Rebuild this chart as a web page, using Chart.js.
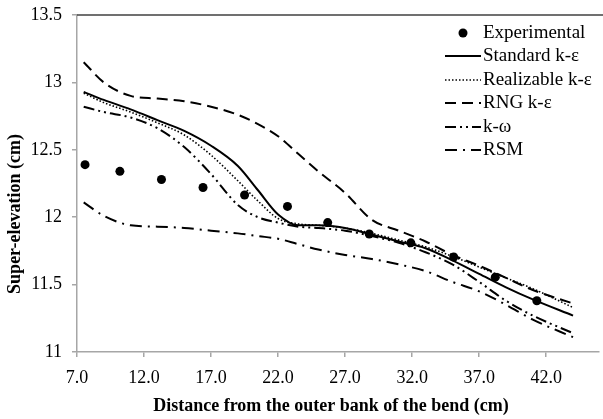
<!DOCTYPE html>
<html>
<head>
<meta charset="utf-8">
<script src="https://cdn.jsdelivr.net/npm/chart.js@4.4.0/dist/chart.umd.min.js"></script>
<style>
  html, body { margin: 0; padding: 0; background: #fff; }
  canvas { display: block; }
</style>
</head>
<body>
<canvas id="c" width="603" height="419"></canvas>
<script>
// values
const expX = [7.6, 10.2, 13.3, 16.4, 19.5, 22.7, 25.7, 28.8, 31.9, 35.1, 38.2, 41.3];
const expY = [12.39, 12.34, 12.28, 12.22, 12.165, 12.08, 11.96, 11.875, 11.81, 11.705, 11.555, 11.38];

// common x positions for the model curves
const modelX = [7.5, 9, 11, 13, 15, 17, 19, 20.5, 22, 23.5, 25, 27, 29, 31, 33, 35, 37, 39, 41, 44];
const standardY   = [12.93, 12.87, 12.80, 12.72, 12.64, 12.53, 12.38, 12.20, 12.02, 11.94, 11.94, 11.92, 11.87, 11.82, 11.77, 11.68, 11.58, 11.48, 11.39, 11.27];
const realizableY = [12.92, 12.85, 12.78, 12.70, 12.61, 12.46, 12.27, 12.12, 11.99, 11.95, 11.94, 11.92, 11.88, 11.83, 11.78, 11.71, 11.63, 11.55, 11.47, 11.33];
const rngY        = [13.15, 13.00, 12.90, 12.88, 12.86, 12.82, 12.76, 12.69, 12.60, 12.47, 12.34, 12.18, 11.98, 11.90, 11.82, 11.72, 11.64, 11.55, 11.46, 11.36];
const kwY         = [12.82, 12.78, 12.74, 12.66, 12.52, 12.32, 12.09, 12.00, 11.96, 11.93, 11.92, 11.90, 11.86, 11.81, 11.74, 11.65, 11.52, 11.38, 11.27, 11.14];
const rsmY        = [12.11, 12.01, 11.94, 11.93, 11.92, 11.90, 11.88, 11.86, 11.84, 11.80, 11.76, 11.72, 11.69, 11.65, 11.60, 11.52, 11.45, 11.35, 11.24, 11.11];

const xTicks = [7, 12, 17, 22, 27, 32, 37, 42];
const yTicks = [11, 11.5, 12, 12.5, 13, 13.5];

const xTitle = "Distance from the outer bank of the bend (cm)";
const yTitle = "Super-elevation (cm)";

const serif = "'Liberation Serif', 'Times New Roman', serif";

function pts(xs, ys) {
  return xs.map((x, i) => ({x: x, y: ys[i]}));
}

function lineSet(label, ys, dash, width) {
  return {
    label: label,
    data: pts(modelX, ys),
    showLine: true,
    borderColor: '#000',
    borderWidth: width,
    borderDash: dash,
    pointRadius: 0,
    cubicInterpolationMode: 'monotone',
    fill: false
  };
}

const datasets = [
  {
    label: 'Experimental',
    data: pts(expX, expY),
    showLine: false,
    pointRadius: 4.5,
    pointBackgroundColor: '#000',
    pointBorderColor: '#000',
    pointBorderWidth: 0
  },
  lineSet('Standard k-ε', standardY, [], 2),
  lineSet('Realizable k-ε', realizableY, [1.5, 2], 1.6),
  lineSet('RNG k-ε', rngY, [11, 6], 2),
  lineSet('k-ω', kwY, [11, 4, 2, 4, 2, 4], 2),
  lineSet('RSM', rsmY, [12, 6, 2, 6], 2)
];

// legend inside the plot + axis titles + top border
const extras = {
  id: 'extras',
  afterDraw(chart) {
    const ctx = chart.ctx;
    const area = chart.chartArea;
    ctx.save();

    // top border of plot area
    ctx.strokeStyle = '#404040';
    ctx.lineWidth = 1.5;
    ctx.beginPath();
    ctx.moveTo(area.left, area.top);
    ctx.lineTo(chart.width, area.top);
    ctx.stroke();

    // legend
    ctx.font = '19px ' + serif;
    ctx.textBaseline = 'middle';
    ctx.fillStyle = '#000';
    const rowY = [33, 56, 80, 103, 127, 150];
    chart.data.datasets.forEach((ds, i) => {
      const y = rowY[i];
      if (i === 0) {
        ctx.beginPath();
        ctx.arc(463, y, 4.5, 0, Math.PI * 2);
        ctx.fill();
      } else {
        ctx.strokeStyle = '#000';
        ctx.lineWidth = ds.borderWidth;
        ctx.setLineDash(ds.borderDash);
        ctx.beginPath();
        ctx.moveTo(445, y);
        ctx.lineTo(481, y);
        ctx.stroke();
        ctx.setLineDash([]);
      }
      ctx.fillText(ds.label, 483, y);
    });

    // axis titles
    ctx.font = 'bold 18px ' + serif;
    ctx.textAlign = 'center';
    ctx.fillText(xTitle, 331, 406);
    ctx.translate(15, 214);
    ctx.rotate(-Math.PI / 2);
    ctx.fillText(yTitle, 0, 0);
    ctx.restore();
  }
};

new Chart(document.getElementById('c'), {
  type: 'scatter',
  data: {datasets: datasets},
  options: {
    responsive: false,
    animation: false,
    devicePixelRatio: 1,
    layout: {padding: {top: 15, right: 0, left: 0, bottom: 0}},
    plugins: {legend: {display: false}, tooltip: {enabled: false}},
    scales: {
      x: {
        type: 'linear',
        min: 7,
        max: 45.9,
        afterBuildTicks: s => { s.ticks = xTicks.map(v => ({value: v})); },
        ticks: {
          color: '#000',
          font: {family: serif, size: 18},
          padding: 10,
          maxRotation: 0,
          callback: v => v.toFixed(1)
        },
        grid: {drawOnChartArea: false, tickLength: 5, color: '#a6a6a6', lineWidth: 1.5},
        border: {color: '#a6a6a6', width: 1.5},
        afterFit: s => { s.height = 67; s.paddingLeft = 0; s.paddingRight = 0; }
      },
      y: {
        min: 11,
        max: 13.5,
        afterBuildTicks: s => { s.ticks = yTicks.map(v => ({value: v})); },
        ticks: {
          color: '#000',
          font: {family: serif, size: 18},
          padding: 10,
          callback: v => String(v)
        },
        grid: {drawOnChartArea: false, tickLength: 5, color: '#a6a6a6', lineWidth: 1.5},
        border: {color: '#a6a6a6', width: 1.5},
        afterFit: s => { s.width = 77; s.paddingTop = 0; s.paddingBottom = 0; }
      }
    }
  },
  plugins: [extras]
});
</script>
</body>
</html>
